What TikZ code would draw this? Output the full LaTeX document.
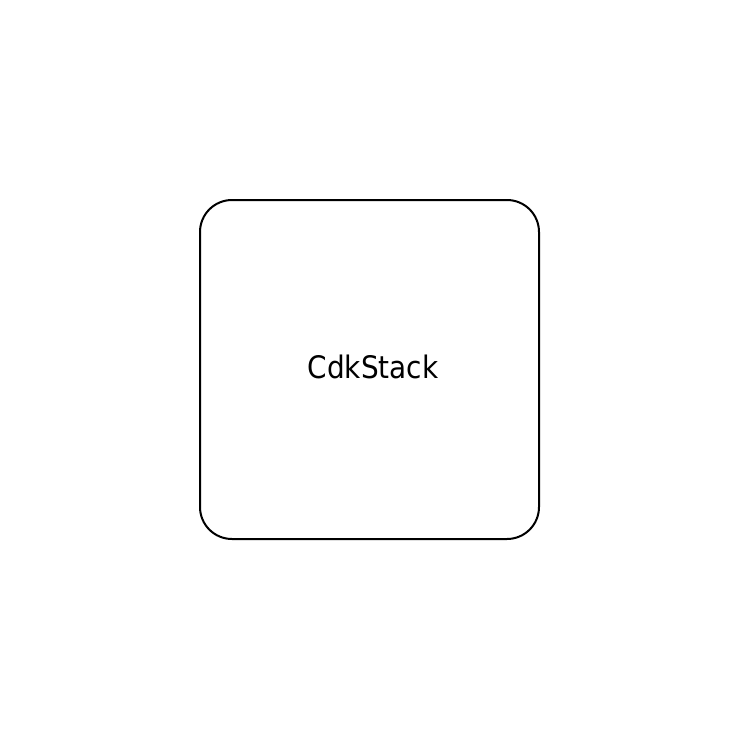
\documentclass[tikz,border=0pt]{standalone}
\usepackage{fontspec}
\setmainfont{DejaVu Sans Condensed}
\begin{document}
\begin{tikzpicture}[x=1pt,y=-1pt,
  stackbox/.style={draw=black, line width=2pt, rounded corners=32pt, minimum width=339pt, minimum height=339pt, inner sep=0pt},
  stacklabel/.style={inner sep=0pt, font=\fontsize{31}{36}\selectfont, text=black}]
\useasboundingbox (0,0) rectangle (739,739);
\node[stackbox] (stack) at (369.5,369.5) {};
\node[stacklabel, anchor=base] (label) at (373,378) {CdkStack};
\end{tikzpicture}
\end{document}
